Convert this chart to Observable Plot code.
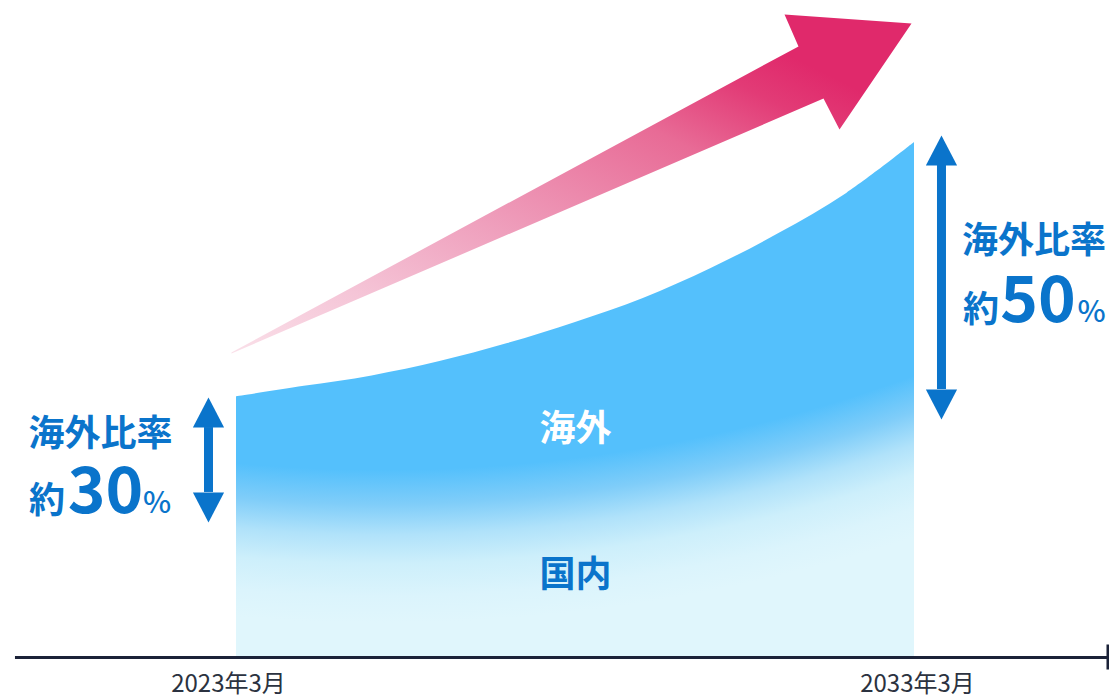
<!DOCTYPE html>
<html><head><meta charset="utf-8">
<script src="https://cdn.jsdelivr.net/npm/d3@7"></script>
<script src="https://cdn.jsdelivr.net/npm/@observablehq/plot@0.6"></script>
<style>html,body{margin:0;padding:0;background:#fff}svg{display:block}</style>
</head><body><div id="chart"></div>
<script>
// ---- data ----
const years = [2023, 2024, 2025, 2026, 2027, 2028, 2029, 2030, 2031, 2032, 2033];
const salesIndex = [100, 104, 108, 113.5, 120.4, 128.5, 137.7, 149.2, 162.6, 178, 197.5];
const tickYears = [2023, 2033];
const tickLabels = ["2023年3月", "2033年3月"];
const segmentNames = ["海外", "国内"];
const ratioTitle = "海外比率";
const ratioPrefix = "約";
const ratioValues = ["30", "50"];
const ratioUnit = "%";
// decorative growth arrow outline (year, index)
const trendArrowX = [2022.926, 2031.289, 2031.083, 2032.956, 2031.894, 2031.658, 2022.926];
const trendArrowY = [117.0, 234.4, 246.6, 243.2, 202.5, 214.4, 116.6];

const series = years.map((y, i) => ({year: y, value: salesIndex[i]}));
const ticks = tickYears.map((y, i) => ({year: y, label: tickLabels[i]}));
const arrowPts = trendArrowX.map((x, i) => ({x, y: trendArrowY[i]}));

const FONT = "'Noto Sans CJK JP', 'Noto Sans', sans-serif";
const BLUE = "#0a74cb";

const upHead = {draw(ctx, size) { const r = Math.sqrt(size / Math.PI); const w = r * 1.3, h = r * 2.5; ctx.moveTo(-w, 0); ctx.lineTo(w, 0); ctx.lineTo(0, -h); ctx.closePath(); }};
const downHead = {draw(ctx, size) { const r = Math.sqrt(size / Math.PI); const w = r * 1.3, h = r * 2.5; ctx.moveTo(-w, 0); ctx.lineTo(w, 0); ctx.lineTo(0, h); ctx.closePath(); }};

const dbl = [
  {x: 2022.587, top: 88.2, bottom: 63.3},
  {x: 2033.398, top: 188.7, bottom: 102.8}
];

const txt = (o) => ({fontFamily: FONT, lineAnchor: "bottom", textAnchor: "middle", ...o});

const svg = Plot.plot({
  width: 1109,
  height: 697,
  margin: 0,
  style: {background: "#fff", fontFamily: FONT},
  x: {domain: [2023, 2033], range: [236, 914], axis: null},
  y: {domain: [0, 252], range: [657, 0], axis: null},
  marks: [
    Plot.areaY(series, {x: "year", y: "value", fill: "url(#areaGrad)", curve: "catmull-rom"}),
    Plot.line(arrowPts, {x: "x", y: "y", fill: "url(#trendGrad)", stroke: "none", curve: "linear-closed"}),
    // axis
    Plot.ruleY([0], {x1: 2019.74, x2: 2035.86, stroke: "#1b2238", strokeWidth: 3}),
    Plot.ruleX([2035.85], {y1: -4.8, y2: 4.8, stroke: "#1b2238", strokeWidth: 2.5}),
    Plot.text(ticks.slice(0, 1), txt({x: "year", y: 0, text: "label", dy: 34, dx: -8, fontSize: 24, fill: "#2b3240"})),
    Plot.text(ticks.slice(1), txt({x: "year", y: 0, text: "label", dy: 34, dx: 3, fontSize: 24, fill: "#2b3240"})),
    // double arrows
    Plot.ruleX(dbl, {x: "x", y1: "top", y2: "bottom", stroke: BLUE, strokeWidth: 9}),
    Plot.dot(dbl, {x: "x", y: "top", symbol: upHead, r: 12, fill: BLUE, stroke: "none"}),
    Plot.dot(dbl, {x: "x", y: "bottom", symbol: downHead, r: 12, fill: BLUE, stroke: "none"}),
    // segment labels
    Plot.text([segmentNames[0]], txt({x: 2028, y: 82.9, text: d => d, fontSize: 36, fontWeight: 700, fill: "#fff"})),
    Plot.text([segmentNames[1]], txt({x: 2028, y: 26.9, text: d => d, fontSize: 36, fontWeight: 700, fill: BLUE})),
    // left ratio
    Plot.text([ratioTitle], txt({x: 2023, y: 81.3, dx: -136, text: d => d, fontSize: 36, fontWeight: 700, fill: BLUE})),
    Plot.text([ratioPrefix], txt({x: 2023, y: 55.6, dx: -189.5, text: d => d, fontSize: 36, fontWeight: 700, fill: BLUE})),
    Plot.text([ratioValues[0]], txt({x: 2023, y: 55.6, dx: -131, text: d => d, fontSize: 64, fontWeight: 700, fill: BLUE})),
    Plot.text([ratioUnit], txt({x: 2023, y: 55.6, dx: -79.5, text: d => d, fontSize: 30, fontWeight: 500, fill: BLUE})),
    // right ratio
    Plot.text([ratioTitle], txt({x: 2033, y: 155, dx: 119.5, text: d => d, fontSize: 36, fontWeight: 700, fill: BLUE})),
    Plot.text([ratioPrefix], txt({x: 2033, y: 128.5, dx: 66.5, text: d => d, fontSize: 36, fontWeight: 700, fill: BLUE})),
    Plot.text([ratioValues[1]], txt({x: 2033, y: 128.5, dx: 123.5, text: d => d, fontSize: 64, fontWeight: 700, fill: BLUE})),
    Plot.text([ratioUnit], txt({x: 2033, y: 128.5, dx: 177, text: d => d, fontSize: 30, fontWeight: 500, fill: BLUE}))
  ]
});

const defs = d3.select(svg).insert("defs", ":first-child");
const rg = defs.append("radialGradient").attr("id", "areaGrad").attr("gradientUnits", "userSpaceOnUse")
  .attr("cx", 382).attr("cy", -1077).attr("r", 1700);
[[0, "#54c0fc"], [0.91, "#54c0fc"], [0.93, "#7fcdf9"], [0.948, "#b0e2fa"], [0.965, "#cdeffb"], [0.984, "#dbf4fc"], [1, "#e0f6fc"]]
  .forEach(([o, c]) => rg.append("stop").attr("offset", o).attr("stop-color", c));
const lg = defs.append("linearGradient").attr("id", "trendGrad")
  .attr("x1", 0).attr("y1", 1).attr("x2", 1).attr("y2", 0);
[[0, "#fae0e9"], [0.18, "#f5c5d7"], [0.375, "#efa0bd"], [0.64, "#e86b96"], [0.77, "#e23b76"], [0.85, "#e0296b"], [1, "#e0296b"]]
  .forEach(([o, c]) => lg.append("stop").attr("offset", o).attr("stop-color", c));

document.getElementById("chart").appendChild(svg);
</script>
</body></html>
